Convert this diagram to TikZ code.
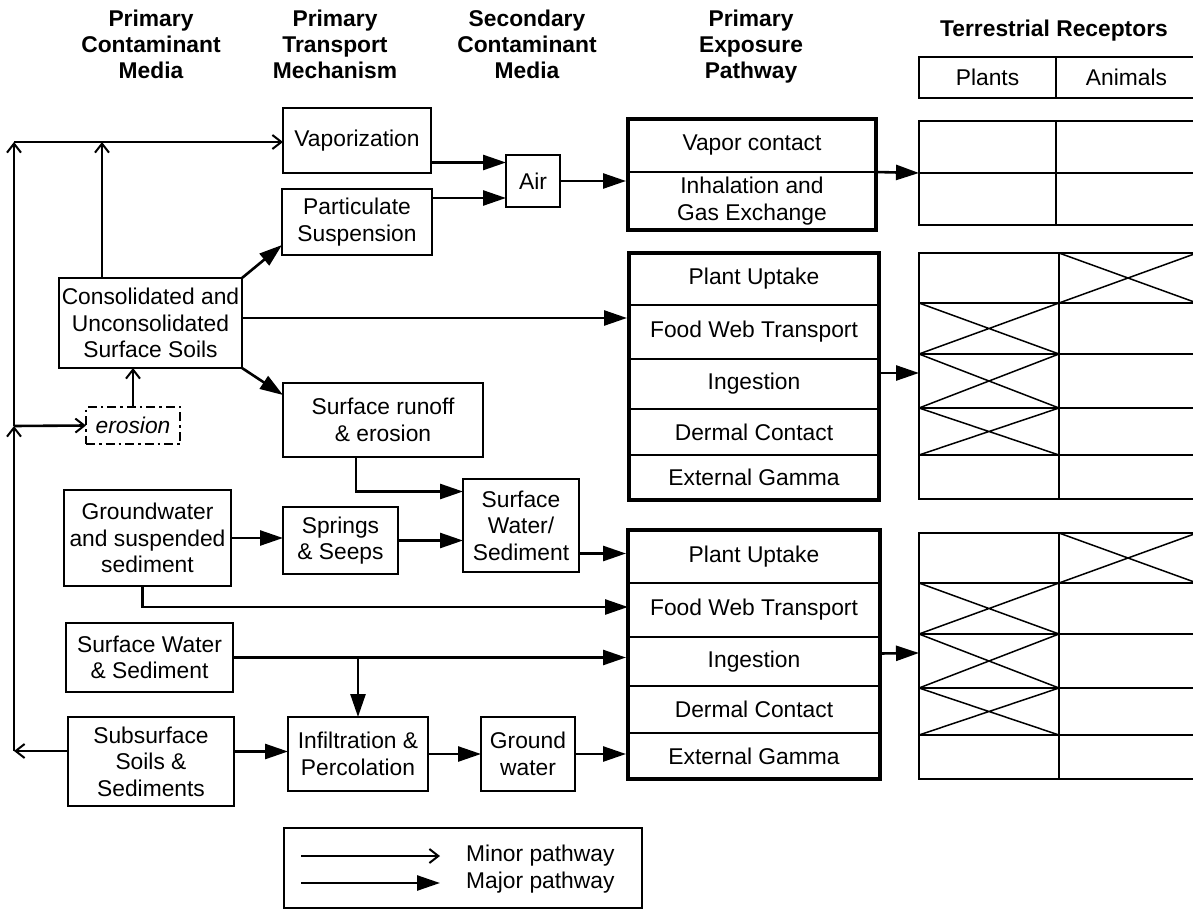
\documentclass[tikz,border=0pt]{standalone}
\usepackage{fontspec}
\setmainfont{Liberation Sans}
\usepackage{tikz}
\usetikzlibrary{
  arrows.meta,
  positioning, fit
}
\newcommand{\boxfont}{\fontsize{22.8}{26.5}\selectfont}
\newcommand{\hdrfont}{\fontsize{22.8}{26}\selectfont\bfseries}
\tikzset{
  box/.style={rectangle,draw=black,line width=1.8pt,align=center,inner sep=0pt,outer sep=0pt,font=\boxfont},
  rowbox/.style={box,minimum width=250pt},
  cellbox/.style={box,line width=2pt,minimum height=41pt},
  hdr/.style={align=center,font=\hdrfont},
  frame/.style={draw=black,line width=4pt,inner sep=0pt},
  erosbox/.style={box,line width=2.5pt,dash pattern=on 9pt off 4pt on 2.5pt off 4pt,font=\boxfont\itshape},
  minor/.style={-{Straight Barb[length=9pt,width=14pt,line width=2pt]},line width=2.6pt},
  major/.style={-{Triangle[length=23pt,width=15pt]},line width=2.6pt},
  tblline/.style={line width=2pt},
  xline/.style={line width=1.5pt}
}

\begin{document}
\begin{tikzpicture}[x=1pt,y=-1pt]
  \useasboundingbox (0,0) rectangle (1193,909);

  %% Column headers
  \node[hdr] (hcm) at (151,44) {Primary\\Contaminant\\Media};
  \node[hdr] (htm) at (335,44) {Primary\\Transport\\Mechanism};
  \node[hdr] (hsm) at (527,44) {Secondary\\Contaminant\\Media};
  \node[hdr] (hep) at (751,47) {Primary\\Exposure\\Pathway};
  \node[hdr] (htr) at (1054,31) {Terrestrial Receptors};
  \node[cellbox,minimum width=137pt] (plants) at (987.5,77.5) {Plants};
  \node[cellbox,minimum width=141pt] (animals) at (1126.5,77.5) {Animals};

  %% Primary contaminant media
  \node[box,minimum width=183pt,minimum height=90pt] (cons) at (150.5,323) {Consolidated and\\Unconsolidated\\Surface Soils};
  \node[erosbox,minimum width=94pt,minimum height=37pt] (eros) at (133,425.5) {erosion};
  \node[box,minimum width=167pt,minimum height=96pt] (gw) at (147.5,538) {Groundwater\\and suspended\\sediment};
  \node[box,minimum width=167pt,minimum height=69pt] (sws) at (149.5,657.5) {Surface Water\\\& Sediment};
  \node[box,minimum width=166pt,minimum height=89pt] (sub) at (151,761.5) {Subsurface\\Soils \&\\Sediments};

  %% Transport mechanism
  \node[box,minimum width=148pt,minimum height=65pt] (vap) at (357,140.5) {Vaporization};
  \node[box,minimum width=150pt,minimum height=66pt] (part) at (357,222) {Particulate\\Suspension};
  \node[box,minimum width=200pt,minimum height=74pt] (runoff) at (383,420) {Surface runoff\\\& erosion};
  \node[box,minimum width=115pt,minimum height=67pt] (spr) at (340.5,540.5) {Springs\\\& Seeps};
  \node[box,minimum width=140pt,minimum height=74pt] (inf) at (358,754) {Infiltration \&\\Percolation};

  %% Secondary media
  \node[box,minimum width=54pt,minimum height=52pt] (air) at (533,181) {Air};
  \node[box,minimum width=116pt,minimum height=93pt] (sw) at (521,525.5) {Surface\\Water/\\Sediment};
  \node[box,minimum width=94pt,minimum height=74pt] (gwat) at (528,754) {Ground\\water};

  %% Exposure pathways
  \node[rowbox,minimum width=248pt,minimum height=53pt] (vapor) at (752,145.5) {Vapor contact};
  \node[rowbox,minimum width=248pt,minimum height=58pt,below=0pt of vapor] (inhal) {Inhalation and\\Gas Exchange};
  \node[frame,fit=(vapor)(inhal)] (expA) {};

  \node[rowbox,minimum height=52pt] (pu1) at (754,279) {Plant Uptake};
  \node[rowbox,minimum height=54pt,below=0pt of pu1] (fw1) {Food Web Transport};
  \node[rowbox,minimum height=50pt,below=0pt of fw1] (ing1) {Ingestion};
  \node[rowbox,minimum height=46pt,below=0pt of ing1] (dc1) {Dermal Contact};
  \node[rowbox,minimum height=45pt,below=0pt of dc1] (eg1) {External Gamma};
  \node[frame,fit=(pu1)(eg1)] (expB) {};

  \node[rowbox,minimum width=252pt,minimum height=53pt] (pu2) at (754,556.5) {Plant Uptake};
  \node[rowbox,minimum width=252pt,minimum height=54pt,below=0pt of pu2] (fw2) {Food Web Transport};
  \node[rowbox,minimum width=252pt,minimum height=49pt,below=0pt of fw2] (ing2) {Ingestion};
  \node[rowbox,minimum width=252pt,minimum height=47pt,below=0pt of ing2] (dc2) {Dermal Contact};
  \node[rowbox,minimum width=252pt,minimum height=46pt,below=0pt of dc2] (eg2) {External Gamma};
  \node[frame,fit=(pu2)(eg2)] (expC) {};

  %% Receptor tables
  \draw[tblline] (919,121) rectangle (1197,225);
  \draw[tblline] (1056,121) -- (1056,225) (919,173) -- (1197,173);
  \coordinate (t1) at (919,173);
  \foreach \top/\nm in {253/t2,533/t3}{
    \begin{scope}[shift={(0,\top)}]
      \draw[tblline] (919,0) rectangle (1197,246);
      \draw[tblline] (1059,0) -- (1059,246);
      \foreach \r in {50,101,155,202} \draw[tblline] (919,\r) -- (1197,\r);
      \draw[xline] (1059,0) -- (1197,50) (1059,50) -- (1197,0);
      \foreach \a/\b in {50/101,101/155,155/202}
        \draw[xline] (919,\a) -- (1059,\b) (919,\b) -- (1059,\a);
      \coordinate (\nm) at (919,120);
    \end{scope}
  }

  %% Minor pathways (left loop)
  \coordinate (tl) at (14,142);
  \coordinate (ml) at (14,426);
  \coordinate (bl) at (14,751);
  \coordinate (tj) at (102,142);
  \draw[minor] (sub.west |- bl) -- (bl);
  \draw[minor] (bl) -- (ml);
  \draw[minor] (ml) -- (tl);
  \draw[minor] (tl) -- (tl -| vap.west);
  \draw[minor] (tj |- cons.north) -- (tj);
  \draw[minor] (ml) -- (eros.west);
  \draw[minor] (eros.north) -- (eros.north |- cons.south);

  %% Major pathways
  \draw[major] (cons.north east) -- ([yshift=10pt]part.south west);
  \draw[major] (cons.south east) -- ([yshift=-12pt]runoff.north west);
  \draw[major] ([yshift=5pt]cons.east) -- ([yshift=5pt]cons.east -| expB.west);
  \draw[major] ([yshift=-22pt]vap.east) -- ([yshift=-22pt]vap.east -| air.west);
  \draw[major] ([yshift=24pt]part.east) -- ([yshift=24pt]part.east -| air.west);
  \draw[major] (air.east) -- (air.east -| expA.west);
  \draw[major] (vapor.south east) -- (t1);
  \draw[major] ([xshift=-27pt]runoff.south) |- ([yshift=34pt]sw.west);
  \draw[major] (gw.east) -- (gw.east -| spr.west);
  \draw[major] (spr.east) -- (spr.east -| sw.west);
  \draw[major] ([yshift=-28pt]sw.east) -- ([yshift=-28pt]sw.east -| expC.west);
  \draw[major] ([xshift=-5pt]gw.south) |- ([yshift=3pt]fw2.west);
  \draw[major] (sws.east) -- (sws.east -| expC.west);
  \coordinate (br) at (inf.north |- sws.east);
  \draw[major] (br) -- (inf.north);
  \draw[major] ([yshift=10pt]sub.east) -- ([yshift=10pt]sub.east -| inf.west);
  \draw[major] (inf.east) -- (gwat.west);
  \draw[major] (gwat.east) -- (gwat.east -| expC.west);
  \draw[major] ([yshift=11pt]ing1.east) -- (t2);
  \draw[major] ([yshift=8pt]ing2.east) -- (t3);

  %% Legend
  \node[box,minimum width=358pt,minimum height=80pt] (lgd) at (463,868) {};
  \node[anchor=west,font=\boxfont,inner sep=0pt] (lminor) at (466,856) {Minor pathway};
  \node[anchor=west,font=\boxfont,inner sep=0pt] (lmajor) at (466,883) {Major pathway};
  \coordinate (lm1) at (301,856);
  \coordinate (lm2) at (301,883);
  \draw[minor] (lm1) -- ([xshift=-26pt]lminor.west);
  \draw[major] (lm2) -- ([xshift=-26pt]lmajor.west);
\end{tikzpicture}
\end{document}
